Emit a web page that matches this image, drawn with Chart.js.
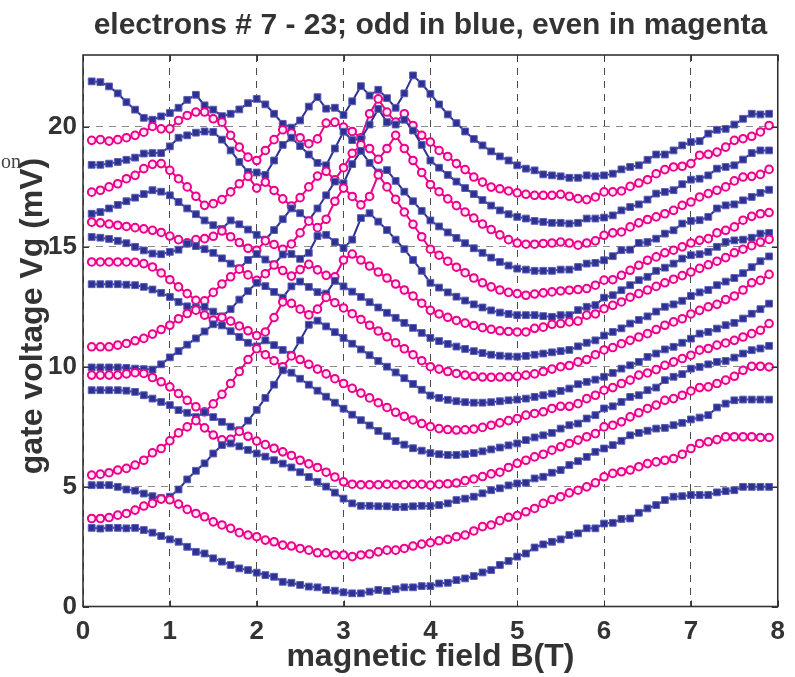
<!DOCTYPE html>
<html>
<head>
<meta charset="utf-8">
<script src="https://cdn.jsdelivr.net/npm/chart.js@4.4.1/dist/chart.umd.min.js"></script>
<style>
  html, body { margin: 0; background: #fff; }
  #wrap { position: relative; width: 795px; height: 677px; }
  #note { position: absolute; left: 1px; top: 150px; font: 20px "Liberation Serif", "DejaVu Serif", serif; color: #444; }
</style>
</head>
<body>
<div id="wrap">
  <canvas id="plot" width="795" height="677"></canvas>
  <div id="note">on</div>
</div>
<script>
// magnetic field B (T), one value per measured point
const fieldB = [
  0.1, 0.2, 0.3, 0.4, 0.5, 0.6, 0.7, 0.8, 0.9, 1.0,
  1.1, 1.2, 1.3, 1.4, 1.5, 1.6, 1.7, 1.8, 1.9, 2.0,
  2.1, 2.2, 2.3, 2.4, 2.5, 2.6, 2.7, 2.8, 2.9, 3.0,
  3.1, 3.2, 3.3, 3.4, 3.5, 3.6, 3.7, 3.8, 3.9, 4.0,
  4.1, 4.2, 4.3, 4.4, 4.5, 4.6, 4.7, 4.8, 4.9, 5.0,
  5.1, 5.2, 5.3, 5.4, 5.5, 5.6, 5.7, 5.8, 5.9, 6.0,
  6.1, 6.2, 6.3, 6.4, 6.5, 6.6, 6.7, 6.8, 6.9, 7.0,
  7.1, 7.2, 7.3, 7.4, 7.5, 7.6, 7.7, 7.8, 7.9
];

// gate voltage Vg (mV) for each electron number
const e7 = [
  3.28, 3.25, 3.28, 3.28, 3.26, 3.28, 3.19, 3.08, 2.94, 2.8,
  2.7, 2.49, 2.28, 2.21, 2.01, 1.87, 1.73, 1.59, 1.52, 1.41,
  1.31, 1.24, 1.03, 0.99, 0.9, 0.83, 0.8, 0.69, 0.66, 0.59,
  0.55, 0.55, 0.62, 0.69, 0.65, 0.72, 0.8, 0.8, 0.85, 0.85,
  0.96, 0.99, 1.1, 1.17, 1.27, 1.42, 1.52, 1.73, 1.9, 2.08,
  2.21, 2.46, 2.59, 2.7, 2.8, 2.98, 3.05, 3.26, 3.26, 3.46,
  3.49, 3.65, 3.67, 3.91, 4.09, 4.23, 4.44, 4.58, 4.6, 4.65,
  4.65, 4.65, 4.76, 4.81, 4.85, 4.99, 4.99, 4.99, 4.99
];
const e8 = [
  3.67, 3.67, 3.71, 3.81, 3.88, 4.02, 4.19, 4.3, 4.48, 4.45,
  4.27, 4.05, 3.88, 3.74, 3.53, 3.4, 3.26, 3.08, 2.98, 2.91,
  2.77, 2.7, 2.56, 2.52, 2.42, 2.35, 2.24, 2.24, 2.15, 2.15,
  2.08, 2.15, 2.19, 2.28, 2.35, 2.35, 2.42, 2.52, 2.6, 2.66,
  2.74, 2.8, 2.91, 2.98, 3.15, 3.33, 3.4, 3.58, 3.72, 3.79,
  3.95, 4.09, 4.3, 4.46, 4.58, 4.74, 4.85, 4.99, 5.16, 5.41,
  5.55, 5.62, 5.69, 5.83, 5.96, 6.03, 6.1, 6.17, 6.35, 6.59,
  6.8, 6.87, 6.96, 7.08, 7.08, 7.08, 7.08, 7.05, 7.05
];
const e9 = [
  5.06, 5.06, 5.06, 4.99, 4.88, 4.83, 4.71, 4.6, 4.52, 4.58,
  4.88, 5.3, 5.66, 5.97, 6.38, 6.73, 6.8, 6.68, 6.53, 6.38,
  6.25, 6.1, 5.96, 5.8, 5.6, 5.4, 5.2, 5.0, 4.75, 4.5,
  4.3, 4.2, 4.2, 4.18, 4.18, 4.15, 4.15, 4.18, 4.2, 4.19,
  4.23, 4.3, 4.44, 4.5, 4.58, 4.72, 4.85, 4.93, 5.05, 5.13,
  5.16, 5.34, 5.41, 5.58, 5.69, 5.9, 6.06, 6.24, 6.45, 6.59,
  6.73, 6.91, 7.14, 7.24, 7.33, 7.42, 7.45, 7.56, 7.66, 7.8,
  7.88, 7.98, 8.3, 8.46, 8.6, 8.63, 8.63, 8.63, 8.63
];
const e10 = [
  5.48, 5.52, 5.58, 5.69, 5.76, 5.9, 6.1, 6.41, 6.59, 6.91,
  7.24, 7.49, 7.75, 7.45, 7.15, 6.95, 6.97, 7.3, 7.1, 6.9,
  6.75, 6.6, 6.45, 6.3, 6.1, 5.95, 5.8, 5.6, 5.4, 5.2,
  5.1, 5.08, 5.08, 5.08, 5.1, 5.08, 5.08, 5.1, 5.1, 5.06,
  5.1, 5.12, 5.15, 5.25, 5.32, 5.42, 5.53, 5.6, 5.8, 5.97,
  6.1, 6.24, 6.35, 6.52, 6.66, 6.8, 6.94, 7.08, 7.21, 7.49,
  7.56, 7.7, 7.91, 8.08, 8.26, 8.4, 8.6, 8.67, 8.81, 8.99,
  9.13, 9.16, 9.3, 9.44, 9.6, 9.85, 10.02, 10.02, 9.99
];
const e11 = [
  9.02, 9.02, 9.02, 9.02, 9.0, 8.95, 8.81, 8.67, 8.53, 8.4,
  8.19, 8.08, 7.9, 8.1, 7.9, 7.7, 7.5, 7.35, 7.75, 8.2,
  8.7, 9.25, 9.85, 9.75, 9.5, 9.25, 9.0, 8.75, 8.5, 8.25,
  8.0, 7.77, 7.55, 7.32, 7.1, 6.9, 6.75, 6.6, 6.5, 6.4,
  6.35, 6.32, 6.32, 6.35, 6.4, 6.47, 6.55, 6.63, 6.72, 6.8,
  6.94, 7.05, 7.14, 7.24, 7.42, 7.56, 7.63, 7.84, 7.98, 8.26,
  8.35, 8.53, 8.74, 8.81, 9.02, 9.13, 9.44, 9.58, 9.69, 9.92,
  9.99, 10.1, 10.2, 10.24, 10.38, 10.55, 10.69, 10.76, 10.87
];
const e12 = [
  9.65, 9.65, 9.65, 9.65, 9.7, 9.75, 9.72, 9.55, 9.37, 9.16,
  8.88, 8.6, 8.33, 8.12, 8.45, 8.85, 9.3, 9.8, 10.3, 10.75,
  10.5, 10.25, 10.0, 10.45, 10.3, 10.1, 9.9, 9.7, 9.5, 9.3,
  9.1, 8.9, 8.7, 8.5, 8.3, 8.1, 7.93, 7.78, 7.63, 7.5,
  7.42, 7.38, 7.36, 7.37, 7.4, 7.47, 7.56, 7.66, 7.75, 7.84,
  7.98, 8.05, 8.12, 8.26, 8.35, 8.35, 8.46, 8.67, 8.81, 9.02,
  9.13, 9.3, 9.44, 9.65, 9.74, 9.88, 10.06, 10.2, 10.34, 10.48,
  10.69, 10.76, 10.9, 10.99, 11.1, 11.24, 11.38, 11.52, 11.8
];
const e13 = [
  9.97, 9.97, 9.97, 9.97, 9.95, 9.92, 9.9, 9.88, 10.1, 10.39,
  10.65, 10.92, 11.18, 11.47, 11.77, 11.72, 11.48, 11.24, 11.0, 10.85,
  11.1, 10.9, 10.7, 10.5, 11.1, 11.75, 11.92, 11.68, 11.44, 11.2,
  10.96, 10.72, 10.48, 10.24, 10.0, 9.76, 9.52, 9.28, 9.04, 8.8,
  8.7, 8.62, 8.56, 8.52, 8.5, 8.5, 8.52, 8.56, 8.6, 8.63,
  8.67, 8.74, 8.81, 8.88, 8.99, 9.09, 9.27, 9.37, 9.46, 9.58,
  9.74, 9.92, 10.06, 10.2, 10.41, 10.55, 10.72, 10.83, 11.0, 11.17,
  11.38, 11.45, 11.59, 11.73, 11.83, 12.01, 12.21, 12.4, 12.63
];
const e14 = [
  10.83, 10.83, 10.83, 10.9, 10.97, 11.08, 11.18, 11.36, 11.55, 11.73,
  12.0, 12.22, 12.36, 12.15, 11.95, 12.05, 11.9, 11.7, 11.5, 11.3,
  11.45, 12.05, 12.7, 12.64, 12.4, 12.16, 12.4, 12.89, 12.67, 12.45,
  12.21, 11.97, 11.73, 11.49, 11.25, 11.0, 10.75, 10.5, 10.25, 10.0,
  9.9, 9.8, 9.72, 9.65, 9.6, 9.57, 9.56, 9.57, 9.58, 9.6,
  9.65, 9.7, 9.8, 9.9, 10.0, 10.05, 10.2, 10.3, 10.5, 10.7,
  10.8, 10.96, 11.1, 11.24, 11.38, 11.55, 11.73, 11.87, 12.0, 12.2,
  12.35, 12.5, 12.6, 12.8, 12.95, 13.2, 13.5, 13.6, 13.85
];
const e15 = [
  13.44, 13.44, 13.44, 13.44, 13.42, 13.4, 13.33, 13.22, 13.08, 12.91,
  12.7, 12.52, 12.47, 12.5, 12.3, 12.1, 12.4, 12.8, 13.15, 13.5,
  13.36, 13.12, 12.88, 13.35, 13.55, 13.33, 13.11, 13.05, 13.58, 13.35,
  13.13, 12.91, 12.69, 12.47, 12.25, 12.04, 11.83, 11.62, 11.41, 11.2,
  11.07, 10.95, 10.84, 10.74, 10.65, 10.57, 10.5, 10.46, 10.43, 10.42,
  10.45, 10.5, 10.55, 10.6, 10.65, 10.7, 10.85, 11.0, 11.1, 11.3,
  11.45, 11.6, 11.8, 11.95, 12.1, 12.3, 12.5, 12.6, 12.75, 12.95,
  13.1, 13.2, 13.4, 13.55, 13.7, 13.9, 14.15, 14.4, 14.6
];
const e16 = [
  14.37, 14.37, 14.37, 14.37, 14.37, 14.35, 14.3, 14.16, 13.91, 13.63,
  13.33, 13.05, 12.77, 12.75, 13.1, 13.45, 13.75, 14.07, 13.83, 13.6,
  13.88, 14.24, 14.01, 13.78, 14.05, 14.27, 14.04, 13.81, 13.75, 14.45,
  14.7, 14.45, 14.2, 13.95, 13.7, 13.45, 13.2, 12.95, 12.65, 12.35,
  12.2, 12.06, 11.93, 11.82, 11.72, 11.63, 11.56, 11.5, 11.47, 11.45,
  11.45, 11.6, 11.65, 11.77, 11.8, 11.87, 11.9, 12.15, 12.2, 12.42,
  12.56, 12.7, 12.9, 13.05, 13.2, 13.35, 13.5, 13.65, 13.8, 13.95,
  14.1, 14.25, 14.4, 14.55, 14.75, 14.9, 15.05, 15.2, 15.31
];
const e17 = [
  15.41, 15.38, 15.33, 15.25, 15.15, 15.0, 14.85, 14.72, 14.69, 14.79,
  14.88, 15.13, 15.03, 14.9, 14.75, 14.52, 14.3, 14.1, 14.45, 14.7,
  14.47, 14.27, 14.68, 14.7, 14.5, 14.75, 15.45, 15.5, 15.2, 14.95,
  15.3, 16.2, 16.4, 16.05, 15.7, 15.3, 14.9, 14.45, 14.0, 13.5,
  13.3, 13.1, 12.92, 12.76, 12.6, 12.47, 12.35, 12.26, 12.2, 12.15,
  12.15, 12.15, 12.11, 12.08, 12.15, 12.15, 12.36, 12.5, 12.57, 12.88,
  12.98, 13.19, 13.4, 13.61, 13.75, 14.0, 14.13, 14.3, 14.51, 14.65,
  14.69, 14.79, 15.0, 15.2, 15.27, 15.3, 15.38, 15.55, 15.58
];
const e18 = [
  16.03, 16.0, 15.95, 15.9, 15.85, 15.8, 15.75, 15.69, 15.6, 15.45,
  15.3, 15.17, 15.3, 15.34, 15.44, 15.66, 15.42, 15.18, 14.94, 14.85,
  15.25, 15.1, 14.9, 15.12, 15.58, 16.07, 15.8, 16.15, 16.9, 17.45,
  17.1, 16.75, 17.1, 18.0, 17.5, 16.98, 16.45, 15.94, 15.42, 14.9,
  14.65, 14.4, 14.15, 13.92, 13.7, 13.5, 13.33, 13.2, 13.1, 13.05,
  12.98, 13.03, 13.08, 13.12, 13.16, 13.19, 13.22, 13.26, 13.4, 13.61,
  13.63, 13.81, 14.02, 14.23, 14.44, 14.58, 14.75, 14.86, 15.0, 15.16,
  15.27, 15.34, 15.58, 15.69, 15.83, 16.11, 16.27, 16.38, 16.43
];
const e19 = [
  16.38, 16.45, 16.6, 16.75, 16.9, 17.05, 17.2, 17.36, 17.3, 17.15,
  16.87, 16.6, 16.36, 16.1, 15.9, 15.75, 16.1, 15.94, 15.72, 15.5,
  15.3, 15.7, 16.15, 16.6, 16.4, 16.1, 16.6, 17.15, 17.72, 17.65,
  18.45, 19.0, 18.5, 18.1, 18.2, 17.75, 17.3, 16.9, 16.5, 16.1,
  15.85, 15.6, 15.37, 15.15, 14.94, 14.75, 14.55, 14.37, 14.22, 14.09,
  14.05, 14.0, 14.0, 14.0, 14.05, 14.05, 14.16, 14.3, 14.33, 14.44,
  14.61, 14.86, 14.88, 15.16, 15.2, 15.34, 15.55, 15.69, 15.97, 16.08,
  16.11, 16.25, 16.6, 16.73, 16.77, 16.94, 17.08, 17.25, 17.38
];
const e20 = [
  17.28, 17.36, 17.5, 17.63, 17.84, 17.98, 18.26, 18.44, 18.47, 18.19,
  17.84, 17.5, 17.11, 16.73, 16.8, 16.97, 17.29, 17.63, 17.94, 17.45,
  17.7, 17.35, 17.0, 16.7, 17.05, 17.5, 17.95, 18.15, 17.8, 18.3,
  18.9, 19.25, 19.1, 18.65, 19.1, 19.65, 19.1, 18.6, 18.1, 17.6,
  17.3, 17.0, 16.72, 16.45, 16.2, 15.95, 15.72, 15.5, 15.3, 15.16,
  15.11, 15.11, 15.14, 15.16, 15.2, 15.16, 15.07, 15.16, 15.25, 15.48,
  15.58, 15.62, 15.83, 16.0, 16.14, 16.25, 16.38, 16.52, 16.73, 16.87,
  17.08, 17.22, 17.36, 17.5, 17.75, 17.91, 17.94, 18.02, 18.23
];
const e21 = [
  18.42, 18.42, 18.47, 18.54, 18.63, 18.72, 18.89, 18.91, 18.91, 19.19,
  19.55, 19.65, 19.76, 19.81, 19.79, 19.47, 19.02, 18.54, 18.12, 18.1,
  18.0, 18.6, 19.25, 19.55, 19.2, 18.85, 18.5, 18.4, 19.1, 19.8,
  19.45, 19.5, 20.1, 20.75, 20.2, 20.1, 20.3, 19.85, 19.25, 18.6,
  18.3, 18.0, 17.72, 17.45, 17.2, 16.95, 16.72, 16.52, 16.36, 16.25,
  16.18, 16.08, 16.04, 16.0, 16.0, 15.97, 16.0, 16.18, 16.18, 16.22,
  16.31, 16.52, 16.66, 16.77, 16.97, 17.22, 17.29, 17.36, 17.61, 17.8,
  17.84, 17.98, 18.26, 18.33, 18.4, 18.64, 18.91, 19.02, 19.02
];
const e22 = [
  19.44, 19.47, 19.41, 19.47, 19.55, 19.65, 19.78, 20.02, 19.92, 19.92,
  20.27, 20.48, 20.62, 20.62, 20.34, 20.2, 19.65, 19.16, 18.74, 18.6,
  19.02, 19.47, 19.88, 19.74, 19.55, 19.3, 19.5, 20.16, 20.2, 19.99,
  19.81, 19.55, 20.55, 21.17, 20.62, 20.2, 20.55, 20.06, 19.65, 19.37,
  19.02, 18.77, 18.47, 18.22, 17.91, 17.7, 17.49, 17.42, 17.33, 17.25,
  17.19, 17.15, 17.15, 17.15, 17.19, 17.11, 17.01, 16.97, 17.08, 17.29,
  17.29, 17.33, 17.52, 17.66, 17.8, 18.05, 18.22, 18.33, 18.36, 18.47,
  18.82, 18.86, 18.95, 19.16, 19.44, 19.51, 19.61, 19.79, 20.06
];
const e23 = [
  21.9, 21.87, 21.69, 21.4, 21.03, 20.72, 20.38, 20.3, 20.44, 20.58,
  20.8, 21.13, 21.34, 20.9, 20.72, 20.45, 20.55, 20.73, 20.99, 21.17,
  20.94, 20.55, 20.13, 19.97, 20.27, 20.85, 21.24, 20.76, 20.8, 20.5,
  21.07, 21.7, 21.31, 21.55, 21.2, 20.8, 21.4, 22.15, 21.8, 21.38,
  20.94, 20.52, 20.16, 19.81, 19.5, 19.23, 18.98, 18.77, 18.6, 18.4,
  18.26, 18.19, 18.02, 17.98, 17.94, 17.88, 17.88, 17.98, 17.94, 17.98,
  18.05, 18.23, 18.33, 18.4, 18.63, 18.85, 18.85, 19.02, 19.23, 19.37,
  19.41, 19.72, 19.88, 19.92, 20.1, 20.34, 20.55, 20.52, 20.55
];

const electronNumbers = [7, 8, 9, 10, 11, 12, 13, 14, 15, 16, 17, 18, 19, 20, 21, 22, 23];
const curves = [e7, e8, e9, e10, e11, e12, e13, e14, e15, e16, e17, e18, e19, e20, e21, e22, e23];

const blue = '#2e3192';
const magenta = '#ec008c';
const textColor = '#333333';
const fontFamily = '"Liberation Sans", Arial, sans-serif';

const toPoints = vals => vals.map((v, i) => ({ x: fieldB[i], y: v }));

const datasets = curves.map((vals, k) => {
    const odd = electronNumbers[k] % 2 === 1;
    return {
        label: 'N = ' + electronNumbers[k],
        data: toPoints(vals),
        showLine: true,
        borderColor: odd ? blue : magenta,
        borderWidth: 2,
        pointStyle: odd ? 'rect' : 'circle',
        pointRadius: odd ? 4.8 : 3.8,
        pointBorderWidth: odd ? 1 : 2,
        pointBackgroundColor: odd ? blue : '#ffe8f5',
        pointBorderColor: odd ? '#5a5fb8' : magenta,
    };
});

// box, inward ticks and the three titles, drawn as in the original figure
const frame = {
    id: 'frame',
    afterDatasetsDraw(chart) {
        const { ctx, chartArea: a, scales: { x, y } } = chart;
        ctx.save();
        ctx.strokeStyle = textColor;
        ctx.lineWidth = 1;
        x.ticks.forEach(t => {
            const px = Math.round(x.getPixelForValue(t.value)) + 0.5;
            ctx.beginPath();
            ctx.moveTo(px, a.bottom); ctx.lineTo(px, a.bottom - 6);
            ctx.moveTo(px, a.top); ctx.lineTo(px, a.top + 6);
            ctx.stroke();
        });
        y.ticks.forEach(t => {
            const py = Math.round(y.getPixelForValue(t.value)) + 0.5;
            ctx.beginPath();
            ctx.moveTo(a.left, py); ctx.lineTo(a.left + 6, py);
            ctx.moveTo(a.right, py); ctx.lineTo(a.right - 6, py);
            ctx.stroke();
        });
        ctx.lineWidth = 1.6;
        ctx.strokeRect(a.left, a.top, a.right - a.left, a.bottom - a.top);

        ctx.fillStyle = textColor;
        ctx.textAlign = 'center';
        ctx.textBaseline = 'middle';
        ctx.font = 'bold 30px ' + fontFamily;
        ctx.fillText('electrons # 7 - 23; odd in blue, even in magenta', (a.left + a.right) / 2, 26);
        ctx.font = 'bold 32px ' + fontFamily;
        ctx.fillText('magnetic field B(T)', (a.left + a.right) / 2, 657);
        ctx.translate(33, 316);
        ctx.rotate(-Math.PI / 2);
        ctx.fillText('gate voltage Vg (mV)', 0, 0);
        ctx.restore();
    }
};

new Chart(document.getElementById('plot').getContext('2d'), {
    type: 'scatter',
    data: { datasets },
    options: {
        responsive: false,
        animation: false,
        devicePixelRatio: 1,
        layout: { padding: { left: 0, right: 12, top: 55, bottom: 0 } },
        plugins: {
            legend: { display: false },
            tooltip: { enabled: false },
        },
        scales: {
            x: {
                type: 'linear',
                min: 0,
                max: 8,
                afterFit: scale => { scale.height = 70.5; },
                ticks: {
                    stepSize: 1,
                    padding: 10,
                    color: textColor,
                    font: { family: fontFamily, size: 26, weight: 'bold' },
                },
                grid: { color: '#4a4a4a', lineWidth: 1, drawTicks: false },
                border: { display: false, dash: [7, 6] },
            },
            y: {
                type: 'linear',
                min: 0,
                max: 23,
                afterFit: scale => { scale.width = 83; },
                afterBuildTicks: scale => {
                    scale.ticks = scale.ticks.filter(t => t.value % 5 === 0);
                },
                ticks: {
                    stepSize: 5,
                    padding: 6,
                    color: textColor,
                    font: { family: fontFamily, size: 26, weight: 'bold' },
                },
                grid: { color: '#8a8a8a', lineWidth: 1, drawTicks: false },
                border: { display: false, dash: [7, 6] },
            },
        },
    },
    plugins: [frame],
});
</script>
</body>
</html>
